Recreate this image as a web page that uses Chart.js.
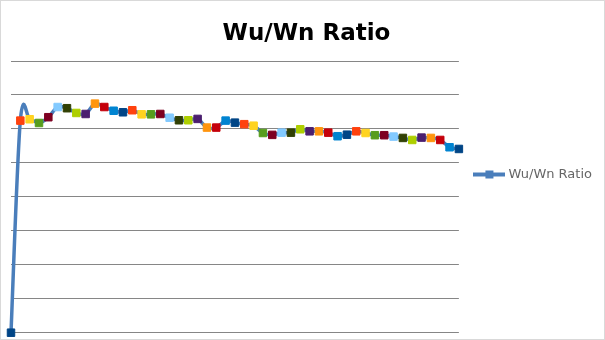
<!DOCTYPE html>
<html>
<head>
<meta charset="utf-8">
<script src="https://cdn.jsdelivr.net/npm/chart.js@4"></script>
<style>
  body { margin: 0; background: #fff; }
  #marco { width: 605px; height: 340px; box-sizing: border-box; border: 1px solid #d9d9d9; }
</style>
</head>
<body>
<div id="marco"><canvas id="grafico" width="603" height="338"></canvas></div>
<script>
const categorias = [1, 2, 3, 4, 5, 6, 7, 8, 9, 10, 11, 12, 13, 14, 15, 16, 17, 18, 19, 20,
  21, 22, 23, 24, 25, 26, 27, 28, 29, 30, 31, 32, 33, 34, 35, 36, 37, 38, 39, 40,
  41, 42, 43, 44, 45, 46, 47, 48, 49];

const ratio = [0, 1.249, 1.257, 1.235, 1.269, 1.329, 1.322, 1.294, 1.288, 1.349,
  1.329, 1.307, 1.298, 1.310, 1.286, 1.286, 1.288, 1.266, 1.251, 1.251,
  1.259, 1.208, 1.208, 1.249, 1.237, 1.228, 1.219, 1.176, 1.165, 1.178,
  1.178, 1.198, 1.186, 1.186, 1.178, 1.157, 1.166, 1.186, 1.176, 1.163,
  1.163, 1.155, 1.147, 1.135, 1.149, 1.147, 1.135, 1.092, 1.082];

// colores que se repiten punto a punto
const paleta = ['#004586', '#ff420e', '#ffd320', '#579d1c', '#7e0021', '#83caff',
  '#314004', '#aecf00', '#4b1f6f', '#ff950e', '#c5000b', '#0084d1'];

const colorLinea = '#4a7ebb';
const coloresPuntos = ratio.map((v, i) => paleta[i % paleta.length]);

// icono de la leyenda: linea con un cuadrado
const icono = document.createElement('canvas');
icono.width = 32;
icono.height = 10;
const ic = icono.getContext('2d');
ic.fillStyle = colorLinea;
ic.fillRect(0, 3, 32, 4);
ic.fillRect(12, 1, 8, 8);

// suavizado tipo Excel (catmull-rom / 6)
const suavizado = {
  id: 'suavizado',
  afterDatasetsUpdate(chart) {
    chart.data.datasets.forEach((ds, d) => {
      const meta = chart.getDatasetMeta(d);
      const pts = meta.data;
      const n = pts.length;
      for (let k = 0; k < n; k++) {
        const ant = pts[Math.max(k - 1, 0)];
        const sig = pts[Math.min(k + 1, n - 1)];
        const dx = (sig.x - ant.x) / 6;
        const dy = (sig.y - ant.y) / 6;
        pts[k].cp1x = pts[k].x - dx;
        pts[k].cp1y = pts[k].y - dy;
        pts[k].cp2x = pts[k].x + dx;
        pts[k].cp2y = pts[k].y + dy;
      }
      meta.dataset._pointsUpdated = true;
    });
  }
};

const ctx = document.getElementById('grafico');
let grafico = new Chart(ctx, {
  type: 'line',
  data: {
    labels: categorias,
    datasets: [{
      label: 'Wu/Wn Ratio',
      data: ratio,
      borderColor: colorLinea,
      borderWidth: 3.5,
      tension: 0.4,
      pointStyle: 'rect',
      pointRadius: 5.3,
      pointBorderWidth: 1,
      pointBackgroundColor: coloresPuntos,
      pointBorderColor: coloresPuntos,
      clip: false
    }]
  },
  options: {
    responsive: false,
    animation: false,
    layout: { padding: { left: 10, right: 2, top: 0, bottom: 6 } },
    plugins: {
      title: {
        display: true,
        text: 'Wu/Wn Ratio',
        color: '#000',
        font: { family: 'DejaVu Sans', size: 23, weight: 'bold', lineHeight: 1.2 },
        padding: { top: 19.2, bottom: 13.2 }
      },
      legend: {
        position: 'right',
        align: 'start',
        // titulo vacio solo para bajar la leyenda
        title: { display: true, text: '', padding: { top: 143, bottom: 0 }, font: { size: 6, lineHeight: 1 } },
        labels: {
          usePointStyle: true,
          pointStyleWidth: 25,
          padding: 18,
          color: '#000',
          font: { family: 'DejaVu Sans', size: 13 },
          generateLabels: () => [{
            text: 'Wu/Wn Ratio',
            pointStyle: icono,
            fillStyle: colorLinea,
            strokeStyle: colorLinea,
            lineWidth: 0,
            hidden: false,
            datasetIndex: 0
          }]
        }
      },
      tooltip: { enabled: false }
    },
    scales: {
      x: { display: false },
      y: {
        min: 0,
        max: 1.6,
        ticks: { display: false, stepSize: 0.2 },
        grid: { color: '#868686', lineWidth: 1, drawTicks: false },
        border: { display: false }
      }
    }
  },
  plugins: [suavizado]
});
</script>
</body>
</html>
